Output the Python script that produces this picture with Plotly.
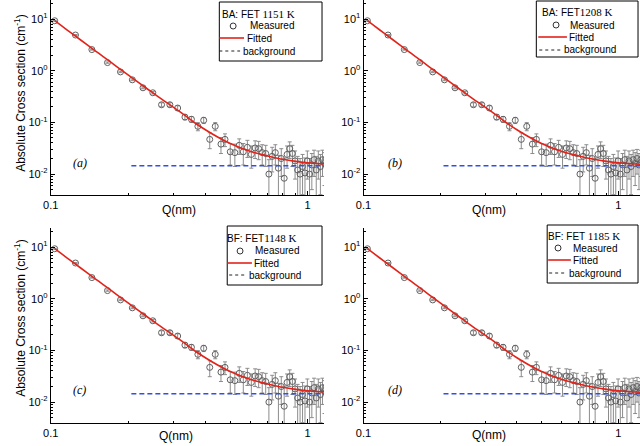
import plotly.graph_objects as go

# ---------------- data ----------------
q_meas = [0.1036, 0.1248, 0.1446, 0.1663, 0.1869, 0.2078, 0.2286, 0.2497, 0.270, 0.291,
          0.312, 0.333, 0.353, 0.374, 0.394, 0.416, 0.437, 0.460, 0.477, 0.500,
          0.521, 0.542, 0.562, 0.583, 0.604, 0.625, 0.645, 0.666, 0.687, 0.707,
          0.728, 0.749, 0.770, 0.790, 0.811, 0.832, 0.852, 0.873, 0.894, 0.915,
          0.935, 0.956, 0.977, 0.998, 1.018, 1.039, 1.060, 1.081, 1.101, 1.122,
          1.143, 1.164, 1.184, 1.205, 1.226]
i_meas = [9.3, 4.92, 2.57, 1.44, 0.95, 0.668, 0.468, 0.375, 0.22, 0.22,
          0.19, 0.127, 0.115, 0.084, 0.11, 0.047, 0.084, 0.038, 0.047, 0.027,
          0.026, 0.036, 0.027, 0.033, 0.024, 0.032, 0.031, 0.026, 0.025, 0.010,
          0.022, 0.026, 0.013, 0.020, 0.0083, 0.024, 0.031, 0.025, 0.018, 0.012,
          0.010, 0.014, 0.0105, 0.018, 0.010, 0.015, 0.019, 0.012, 0.018, 0.014,
          0.019, 0.016, 0.020, 0.015, 0.019]
i_err = [0.15, 0.1, 0.06, 0.04, 0.03, 0.025, 0.02, 0.02, 0.02, 0.02,
         0.02, 0.015, 0.015, 0.015, 0.015, 0.016, 0.015, 0.013, 0.013, 0.012,
         0.012, 0.012, 0.012, 0.012, 0.011, 0.012, 0.012, 0.011, 0.011, 0.009,
         0.011, 0.011, 0.010, 0.011, 0.012, 0.011, 0.011, 0.011, 0.010, 0.010,
         0.010, 0.010, 0.010, 0.010, 0.010, 0.010, 0.010, 0.010, 0.010, 0.010,
         0.010, 0.010, 0.010, 0.010, 0.010]

q_fit = [0.1036, 0.11, 0.12, 0.13, 0.14, 0.15, 0.16, 0.18, 0.20, 0.22, 0.25, 0.28,
         0.32, 0.36, 0.40, 0.45, 0.50, 0.56, 0.63, 0.70, 0.80, 0.90, 1.00, 1.10, 1.23]
i_fit = [9.31, 7.46, 5.41, 4.03, 3.07, 2.38, 1.88, 1.22, 0.830, 0.588, 0.372, 0.249,
         0.158, 0.102, 0.072, 0.051, 0.039, 0.031, 0.0255, 0.0224, 0.0193, 0.0176,
         0.0166, 0.0160, 0.0155]

q_bg = [0.206, 1.23]
i_bg = [0.0145, 0.0145]

panel_tags = ["(a)", "(b)", "(c)", "(d)"]
SERIF_SPAN = "<span style='font-family:Liberation Serif;font-size:11px'>%s</span>"
legend_titles = [
    "BA: FET " + SERIF_SPAN % "1151 K",
    "BA: FET" + SERIF_SPAN % "1208 K",
    "BF: FET" + SERIF_SPAN % "1148 K",
    "BF: FET " + SERIF_SPAN % "1185 K",
]
x_tick_vals = [0.1, 1]
x_tick_text = ["0.1", "1"]
y_tick_vals = [10, 1, 0.1, 0.01]
y_tick_text = ["10<sup>1</sup>", "10<sup>0</sup>", "10<sup>-1</sup>", "10<sup>-2</sup>"]
x_minor = [0.2, 0.3, 0.4, 0.5, 0.6, 0.7, 0.8, 0.9, 2]
y_minor = [m * d for d in [0.001, 0.01, 0.1, 1, 10] for m in range(2, 10)]

# ---------------- layout helpers (pixels -> paper) ----------------
W, H = 640, 446
def fx(px): return px / W
def fy(py): return 1 - py / H

# panels: (left px, right px, top px, bottom px, x log range)
panels = [
    (43.3, 320, 0, 195, [-1, 0.064]),
    (360, 640, 0, 195, [-1, 0.085]),
    (43.3, 320, 228, 423, [-1, 0.064]),
    (360, 640, 228, 423, [-1, 0.085]),
]
y_range = [-2.405, 1.37]

SANS = "Liberation Sans"
SERIF = "Liberation Serif"
LEG_FONT = dict(family=SANS, size=10)

fig = go.Figure()
layout = dict(width=W, height=H, margin=dict(l=0, r=0, t=0, b=0),
              paper_bgcolor="white", plot_bgcolor="white", showlegend=False,
              font=dict(family=SANS, size=11, color="black"))
annotations = []
shapes = []

# legend geometry per panel (px)
legends = [
    dict(box=(214, 2, 318, 61), ty=14, tx=254, cx=228, cy=26, mx=243,
         rl=(214, 239), ry=38, fxp=240, dl=(214, 235), dy=51, bx=236),
    dict(box=(535, 1, 638, 57), ty=12, tx=577, cx=555, cy=25, mx=567,
         rl=(537, 566), ry=37, fxp=566, dl=(538, 560), dy=50, bx=561),
    dict(box=(222, 226, 318, 285), ty=238, tx=257, cx=235, cy=251, mx=248,
         rl=(222, 247), ry=263, fxp=247, dl=(224, 241), dy=275, bx=242),
    dict(box=(546, 225, 638, 283), ty=236, tx=583, cx=557, cy=248, mx=570,
         rl=(547, 570), ry=260, fxp=570, dl=(548, 565), dy=273, bx=566),
]
tag_pos = [(73, 163), (392, 163), (72, 390), (392, 390)]
xtitle_pos = [(173, 210), (487, 210), (170, 436), (487, 435)]

for k, (l, r, t, b, xr) in enumerate(panels):
    n = "" if k == 0 else str(k + 1)
    xa, ya = "x" + n, "y" + n
    fig.add_trace(go.Scatter(
        x=q_meas, y=i_meas, mode="markers", xaxis=xa, yaxis=ya,
        marker=dict(symbol="circle-open", size=6, color="#606060", line=dict(width=1)),
        error_y=dict(type="data", array=i_err, visible=True, color="#8c8c8c",
                     thickness=1, width=2)))
    fig.add_trace(go.Scatter(
        x=q_fit, y=i_fit, mode="lines", xaxis=xa, yaxis=ya, line_shape="spline",
        line=dict(color="#e2231a", width=1.6)))
    fig.add_trace(go.Scatter(
        x=q_bg, y=i_bg, mode="lines", xaxis=xa, yaxis=ya,
        line=dict(color="#2f4fe8", width=1.5, dash="5px,3px")))

    common = dict(showline=True, linecolor="black", linewidth=1, mirror=False,
                  showgrid=False, zeroline=False, ticks="inside", ticklen=4,
                  tickcolor="black", tickfont=dict(family=SANS, size=11))
    layout["xaxis" + n] = dict(common, type="log", range=xr, domain=[fx(l), fx(r)],
                               anchor=ya, tickmode="array", tickvals=x_tick_vals,
                               ticktext=x_tick_text,
                               minor=dict(ticks="inside", ticklen=2, tickcolor="black",
                                          tickvals=x_minor, showgrid=False))
    layout["yaxis" + n] = dict(common, type="log", range=y_range, domain=[fy(b), fy(t)],
                               anchor=xa, tickmode="array", tickvals=y_tick_vals,
                               ticktext=y_tick_text,
                               minor=dict(ticks="inside", ticklen=2, tickcolor="black",
                                          tickvals=y_minor, showgrid=False))

    # panel tag
    tx, ty = tag_pos[k]
    annotations.append(dict(x=fx(tx), y=fy(ty), xref="paper", yref="paper",
                            text="<i>" + panel_tags[k] + "</i>", showarrow=False,
                            font=dict(family=SERIF, size=12), xanchor="center",
                            yanchor="middle"))
    # x title
    qx, qy = xtitle_pos[k]
    annotations.append(dict(x=fx(qx), y=fy(qy), xref="paper", yref="paper",
                            text="Q(nm)", showarrow=False, font=dict(family=SANS, size=12),
                            xanchor="center", yanchor="middle"))
    # legend
    L = legends[k]
    x0, y0, x1, y1 = L["box"]
    shapes.append(dict(type="rect", xref="paper", yref="paper", x0=fx(x0), x1=fx(x1),
                       y0=fy(y1), y1=fy(y0), line=dict(color="black", width=1),
                       fillcolor="white", layer="above"))
    annotations.append(dict(x=fx(L["tx"]), y=fy(L["ty"]), xref="paper", yref="paper",
                            text=legend_titles[k], showarrow=False,
                            font=LEG_FONT, xanchor="center", yanchor="middle"))
    shapes.append(dict(type="circle", xref="paper", yref="paper",
                       x0=fx(L["cx"] - 3), x1=fx(L["cx"] + 3),
                       y0=fy(L["cy"] + 3), y1=fy(L["cy"] - 3),
                       line=dict(color="#333333", width=1), layer="above"))
    annotations.append(dict(x=fx(L["mx"]), y=fy(L["cy"]), xref="paper", yref="paper",
                            text="Measured", showarrow=False, font=LEG_FONT,
                            xanchor="left", yanchor="middle"))
    shapes.append(dict(type="line", xref="paper", yref="paper",
                       x0=fx(L["rl"][0]), x1=fx(L["rl"][1]), y0=fy(L["ry"]), y1=fy(L["ry"]),
                       line=dict(color="#e2231a", width=1.6), layer="above"))
    annotations.append(dict(x=fx(L["fxp"]), y=fy(L["ry"]), xref="paper", yref="paper",
                            text="Fitted", showarrow=False, font=LEG_FONT,
                            xanchor="left", yanchor="middle"))
    shapes.append(dict(type="line", xref="paper", yref="paper",
                       x0=fx(L["dl"][0]), x1=fx(L["dl"][1]), y0=fy(L["dy"]), y1=fy(L["dy"]),
                       line=dict(color="#222222", width=1, dash="3px,3px"), layer="above"))
    annotations.append(dict(x=fx(L["bx"]), y=fy(L["dy"]), xref="paper", yref="paper",
                            text="background", showarrow=False, font=LEG_FONT,
                            xanchor="left", yanchor="middle"))

# y titles for the left column
for cy in [93, 318]:
    annotations.append(dict(x=fx(12), y=fy(cy), xref="paper", yref="paper",
                            text="Absolute Cross section (cm<sup>-1</sup>)", showarrow=False,
                            textangle=-90, font=dict(family=SANS, size=12),
                            xanchor="center", yanchor="middle"))

layout["annotations"] = annotations
layout["shapes"] = shapes
fig.update_layout(**layout)
fig.write_html("out.html")
